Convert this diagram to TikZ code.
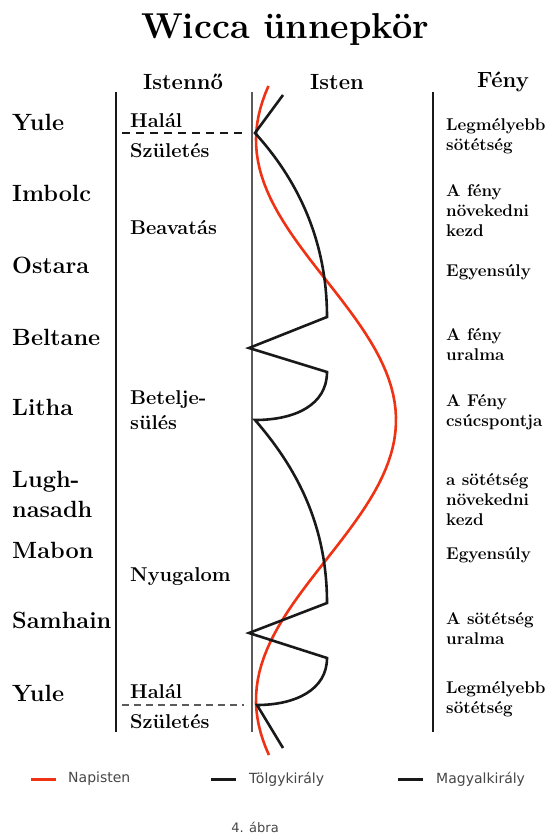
\documentclass[tikz,border=0pt]{standalone}
\usepackage{fontspec}
\usepackage{tikz}
\usetikzlibrary{positioning, calc}
\newfontfamily\legfont{DejaVu Sans}
\definecolor{sunred}{RGB}{240,50,20}
\definecolor{kingblack}{RGB}{25,25,25}
\definecolor{midgray}{RGB}{90,90,90}
\definecolor{leggray}{RGB}{70,70,70}
\tikzset{
  ttl/.style={font=\fontsize{36}{42}\selectfont\bfseries, inner sep=0pt},
  hdr/.style={font=\fontsize{22}{25}\selectfont\bfseries, inner sep=0pt},
  fest/.style={anchor=west, inner sep=0pt, align=left, font=\fontsize{23.5}{30}\selectfont\bfseries},
  phase/.style={anchor=west, inner sep=0pt, align=left, font=\fontsize{20}{25}\selectfont\bfseries},
  light/.style={anchor=west, inner sep=0pt, align=left, font=\fontsize{17}{20}\selectfont\bfseries},
  leg/.style={anchor=west, inner sep=0pt, font=\legfont\fontsize{14}{16}\selectfont, text=leggray},
  colline/.style={line width=2.6pt, kingblack},
  midline/.style={line width=1.8pt, midgray},
  cut/.style={line width=2pt, kingblack, dash pattern=on 8pt off 6pt},
  cutlight/.style={line width=1.4pt, midgray, dash pattern=on 7pt off 5pt},
  sun/.style={line width=2.6pt, sunred},
  king/.style={line width=2.6pt, kingblack}
}

\begin{document}
\begin{tikzpicture}[x=1pt, y=-1pt]
  \useasboundingbox (0,0) rectangle (556,837);
  \node[ttl] (title) at (285,30) {Wicca ünnepkör};
  % column heads
  \node[hdr] (istenno) at (183,82) {Istennő};
  \node[hdr] (isten) at (337,82) {Isten};
  \node[hdr] (feny) at (503,82) {Fény};
  % column rules
  \coordinate (lt) at (116,92);  \coordinate (lb) at (116,732);
  \coordinate (mt) at (252,92);  \coordinate (mb) at (252,732);
  \coordinate (rt) at (433,92);  \coordinate (rb) at (433,732);
  \draw[colline] (lt) -- (lb);
  \draw[midline] (mt) -- (mb);
  \draw[colline] (rt) -- (rb);
  \coordinate (cutA) at (122,133); \coordinate (cutB) at (244,133);
  \coordinate (cutC) at (122,705); \coordinate (cutD) at (244,705);
  \draw[cut] (cutA) -- (cutB);
  \draw[cutlight] (cutC) -- (cutD);
  % festivals
  \node[fest] (yule1) at (12,122) {Yule};
  \node[fest] (imbolc) at (12,193) {Imbolc};
  \node[fest] (ostara) at (12,265) {Ostara};
  \node[fest] (beltane) at (12,337) {Beltane};
  \node[fest] (litha) at (12,407) {Litha};
  \node[fest] (lugh) at (12,494) {Lugh-\\nasadh};
  \node[fest] (mabon) at (12,550) {Mabon};
  \node[fest] (samhain) at (12,620) {Samhain};
  \node[fest] (yule2) at (12,693) {Yule};
  % goddess
  \node[phase] (halal1) at (130,121) {Halál};
  \node[phase] (szul1) at (130,151) {Születés};
  \node[phase] (beavatas) at (130,228) {Beavatás};
  \node[phase] (betelj) at (130,410) {Betelje-\\sülés};
  \node[phase] (nyugalom) at (130,577) {Nyugalom};
  \node[phase] (halal2) at (130,692) {Halál};
  \node[phase] (szul2) at (130,722) {Születés};
  % light
  \node[light] (mely1) at (446,136) {Legmélyebb\\sötétség};
  \node[light] (novfeny) at (446,211) {A fény\\növekedni\\kezd};
  \node[light] (egy1) at (446,272) {Egyensúly};
  \node[light] (uralfeny) at (446,345) {A fény\\uralma};
  \node[light] (csucs) at (446,412) {A Fény\\csúcspontja};
  \node[light] (novsot) at (446,500) {a sötétség\\növekedni\\kezd};
  \node[light] (egy2) at (446,555) {Egyensúly};
  \node[light] (uralsot) at (446,629) {A sötétség\\uralma};
  \node[light] (mely2) at (446,699) {Legmélyebb\\sötétség};
  % sun god and the two kings
  \draw[sun] plot[domain=86:755, samples=90, variable=\t] ({326-70*cos(0.642857*(\t-140))}, \t);
  \draw[king] (283,95) -- (255,133) .. controls (295,177) and (327,237) .. (327,317)
    -- (249,348) -- (327,372) .. controls (327,405) and (295,420) .. (255,420)
    .. controls (295,466) and (327,523) .. (327,603)
    -- (249,633) -- (327,658) .. controls (327,690) and (295,705) .. (257,705) -- (283,748);
  % legend
  \coordinate (sunA) at (31,779);   \coordinate (sunB) at (56,779);
  \coordinate (oakA) at (211,779);  \coordinate (oakB) at (236,779);
  \coordinate (hollyA) at (398,779); \coordinate (hollyB) at (423,779);
  \draw[sun, line width=3pt] (sunA) -- (sunB);
  \draw[king, line width=3pt] (oakA) -- (oakB);
  \draw[king, line width=3pt] (hollyA) -- (hollyB);
  \node[leg, right=12pt of sunB] (napisten) {Napisten};
  \node[leg, right=13pt of oakB] (tolgy) {Tölgykirály};
  \node[leg, right=13pt of hollyB] (magyal) {Magyalkirály};
  \node[leg, anchor=center, font=\legfont\fontsize{13}{15}\selectfont] (abra) at (255,827) {4. ábra};
\end{tikzpicture}
\end{document}
